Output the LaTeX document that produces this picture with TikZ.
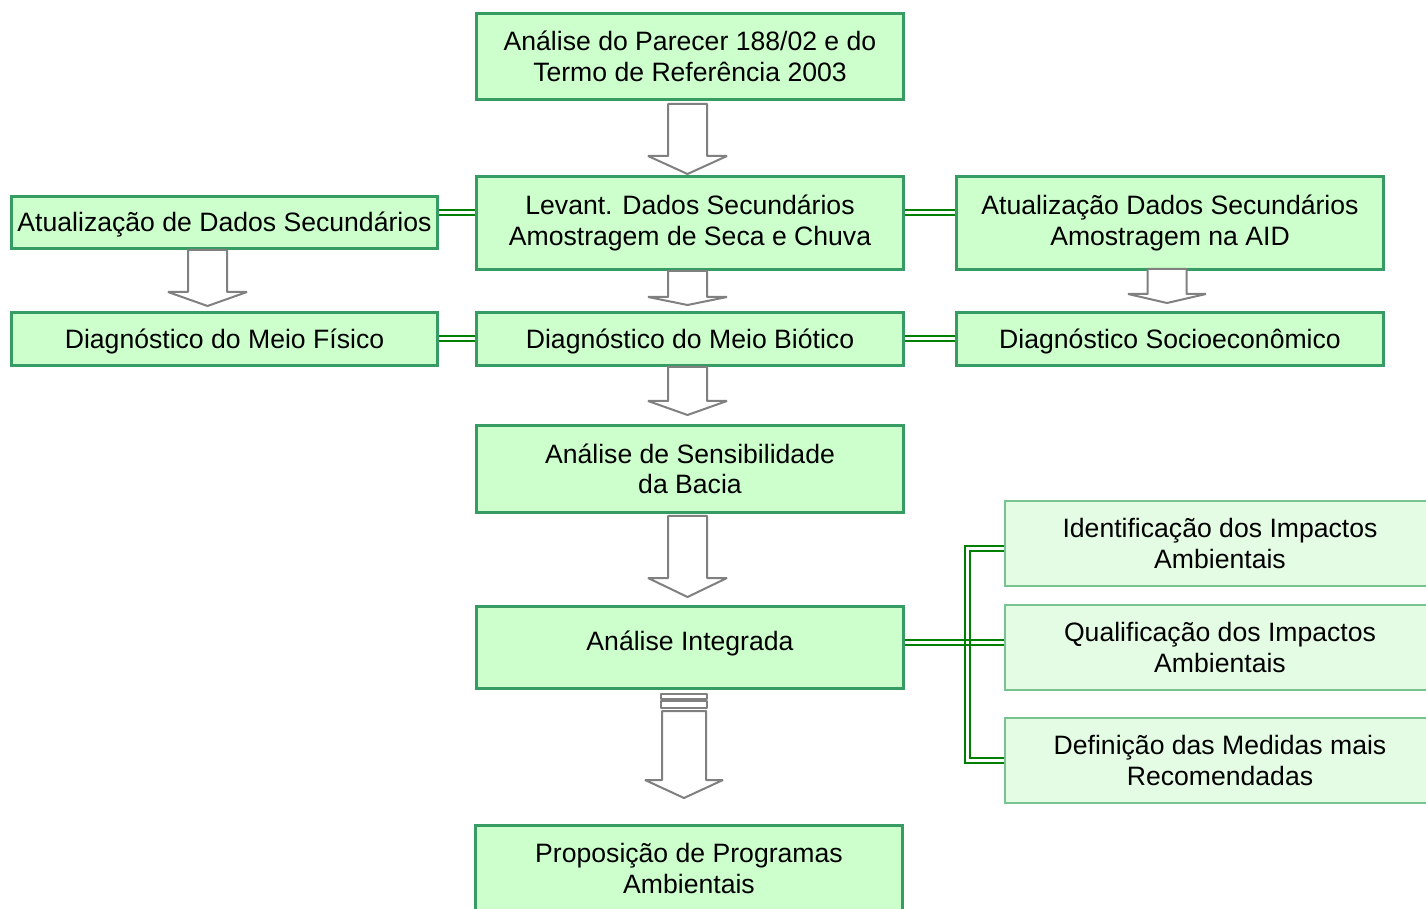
\documentclass[tikz,border=0pt]{standalone}
\usepackage{fontspec}
\setmainfont{Liberation Sans}
\usetikzlibrary{calc}
\definecolor{boxborder}{RGB}{55,155,100}
\definecolor{boxfill}{RGB}{204,255,204}
\definecolor{rborder}{RGB}{120,195,145}
\definecolor{rfill}{RGB}{228,252,228}
\definecolor{lnk}{RGB}{0,128,0}
\definecolor{arr}{RGB}{128,128,128}
\newcommand\barrowpath[6]{%
\draw[barrow] ({#1-#5},#2) -- ({#1+#5},#2) -- ({#1+#5},#3) -- ({#1+#6},#3) -- (#1,#4) -- ({#1-#6},#3) -- ({#1-#5},#3) -- cycle;}
\begin{document}
\begin{tikzpicture}[x=0.5pt,y=-0.5pt,
  mainbox/.style={draw=boxborder, fill=boxfill, line width=1.5pt, minimum width=213.5pt, align=center, inner sep=0pt, font=\fontsize{13.3}{15.2}\selectfont},
  onebox/.style={mainbox, minimum height=26.5pt, text height=12pt, text depth=2.8pt},
  rbox/.style={draw=rborder, fill=rfill, line width=0.6pt, minimum width=215pt, minimum height=42.5pt, align=center, inner sep=0pt, font=\fontsize{13.3}{15.2}\selectfont},
  dbl/.style={draw=lnk, line width=1pt, double=white, double distance=1.5pt},
  gline/.style={draw=lnk, line width=1pt},
  barrow/.style={draw=arr, fill=white, line width=1pt, line join=bevel}]
\useasboundingbox (0,0) rectangle (1426,909);
\clip (0,0) rectangle (1426,909);
\node[mainbox, minimum height=43pt] (top) at (690,56.5) {Análise do Parecer 188/02 e do\\Termo de Referência 2003};
\node[mainbox, minimum height=46.5pt] (levant) at (690,223) {Levant. Dados Secundários\\Amostragem de Seca e Chuva};
\node[onebox, minimum width=213pt, minimum height=26pt] (ads) at (224.5,222.5) {Atualização de Dados Secundários};
\node[mainbox, minimum height=46.5pt] (aid) at (1170,223) {Atualização Dados Secundários\\Amostragem na AID};
\node[onebox, minimum width=213pt] (fis) at (224.5,339) {Diagnóstico do Meio Físico};
\node[onebox] (bio) at (690,339) {Diagnóstico do Meio Biótico};
\node[onebox] (soc) at (1170,339) {Diagnóstico Socioeconômico};
\node[mainbox, minimum height=43.5pt] (sens) at (690,469) {Análise de Sensibilidade\\da Bacia};
\node[onebox, minimum height=41pt, text depth=8.8pt] (integ) at (690,647.5) {Análise Integrada};
\node[mainbox, minimum height=43pt] (prop) at (689,868.5) {Proposição de Programas\\Ambientais};
\node[rbox] (ri1) at (1220,543.5) {Identificação dos Impactos\\Ambientais};
\node[rbox] (ri2) at (1220,647.5) {Qualificação dos Impactos\\Ambientais};
\node[rbox] (ri3) at (1220,760.5) {Definição das Medidas mais\\Recomendadas};
% double links
\draw[dbl] ($(ads.east)+(0,-10)$) -- ($(levant.west)+(0,-10.5)$);
\draw[dbl] ($(levant.east)+(0,-10.5)$) -- ($(aid.west)+(0,-10.5)$);
\draw[dbl] (fis.east) -- (bio.west);
\draw[dbl] (bio.east) -- (soc.west);
\draw[dbl] ($(ri1.west)+(0,5)$) -| ($(ri3.west)+(-37,0)$) -- (ri3.west);
\draw[gline] ($(integ.east)+(0,-7.5)$) -- ($(ri2.west)+(0,-7.5)$);
\draw[gline] ($(integ.east)+(0,-2.5)$) -- ($(ri2.west)+(0,-2.5)$);
% block arrows
\barrowpath{687.5}{104}{156}{174}{19.5}{39.5}
\barrowpath{207.5}{250}{292}{306}{19.5}{39.5}
\barrowpath{687.5}{271}{297}{305}{19.5}{39.5}
\barrowpath{1167}{269}{294}{303}{19.5}{39}
\barrowpath{687.5}{367}{401}{415}{19.5}{39.5}
\barrowpath{687.5}{516}{578}{597}{19.5}{39.5}
\draw[barrow] (661,694) rectangle (707,698.5);
\draw[barrow] (661,701) rectangle (707,708);
\barrowpath{684}{711}{780}{798}{22}{39}
\end{tikzpicture}
\end{document}
